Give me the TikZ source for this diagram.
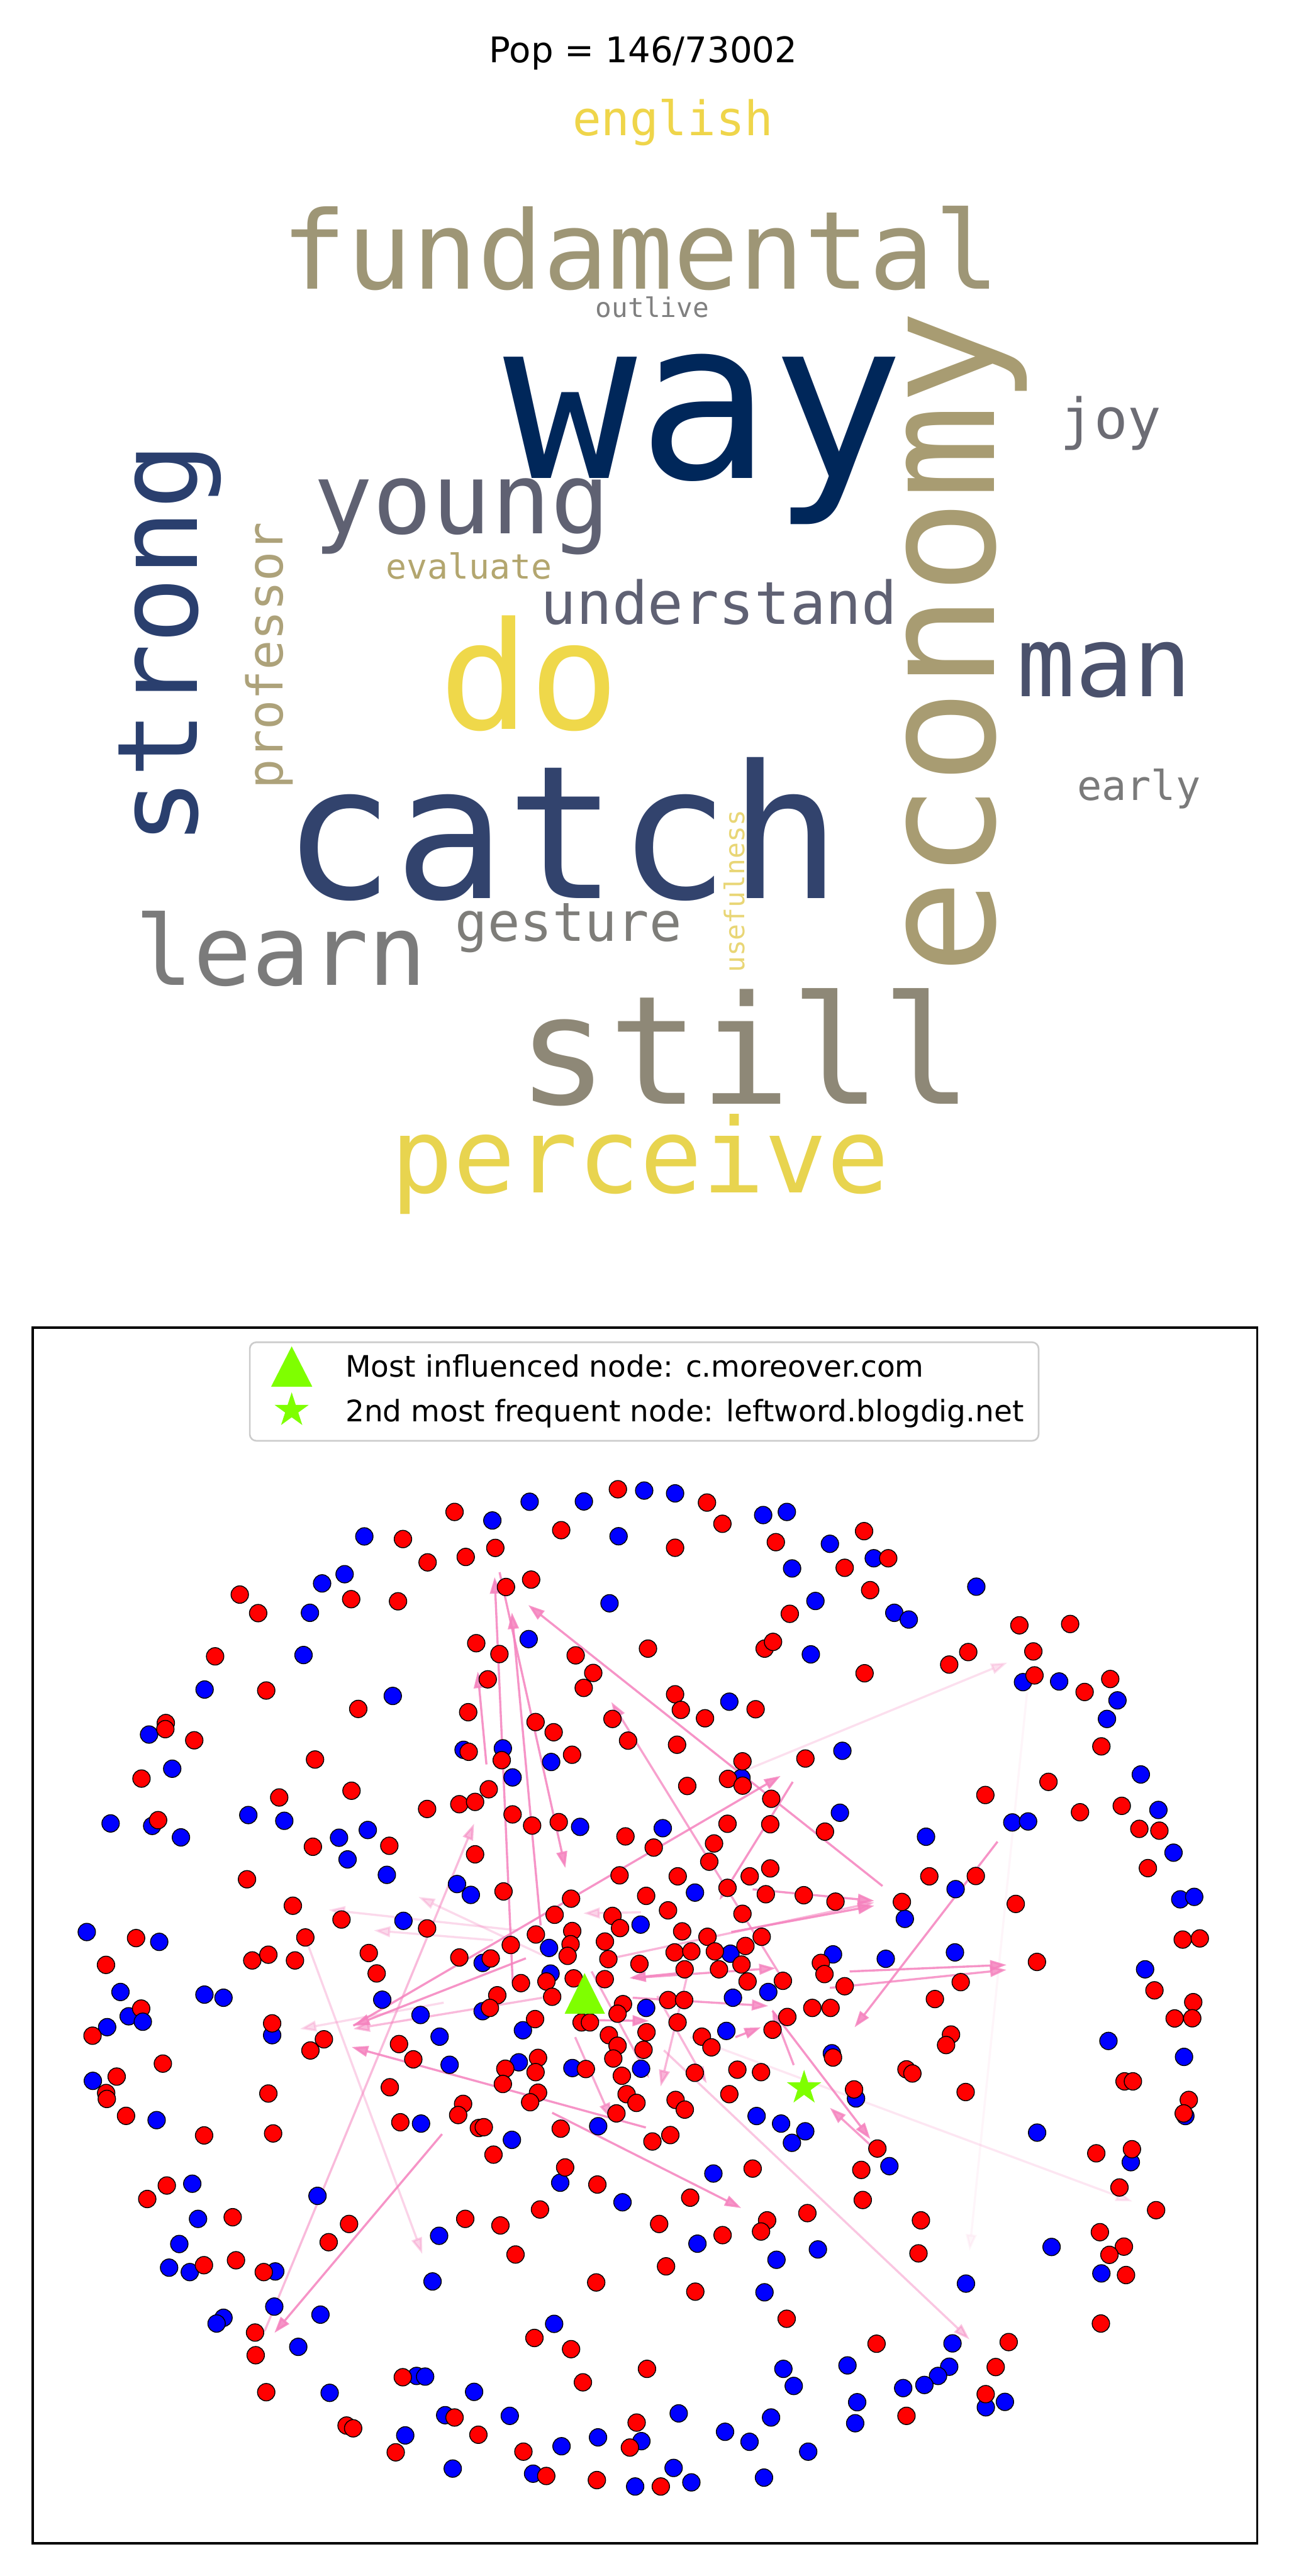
\documentclass[tikz,border=0pt]{standalone}
\usepackage{fontspec}
\usetikzlibrary{arrows.meta,shapes.geometric}
\newfontfamily\wcfont{DejaVu Sans Mono}
\newfontfamily\mplfont{DejaVu Sans}
\definecolor{cEng}{HTML}{EFD54A}
\definecolor{cFund}{HTML}{9E9676}
\definecolor{cOut}{HTML}{808080}
\definecolor{cWay}{HTML}{00275A}
\definecolor{cEco}{HTML}{A89C72}
\definecolor{cJoy}{HTML}{6C6C74}
\definecolor{cYoung}{HTML}{5F6172}
\definecolor{cStrong}{HTML}{2A3F6E}
\definecolor{cProf}{HTML}{ADA27A}
\definecolor{cEval}{HTML}{B3A66F}
\definecolor{cUnd}{HTML}{5F6173}
\definecolor{cMan}{HTML}{4A516C}
\definecolor{cDo}{HTML}{EFD84A}
\definecolor{cCatch}{HTML}{32436D}
\definecolor{cEarly}{HTML}{7A7A7A}
\definecolor{cUse}{HTML}{E9D676}
\definecolor{cLearn}{HTML}{7B7B7B}
\definecolor{cGest}{HTML}{7E7D79}
\definecolor{cStill}{HTML}{8E8877}
\definecolor{cPerc}{HTML}{E8D44F}
\definecolor{cPink}{RGB}{245,130,190}
\definecolor{cLime}{HTML}{7FFF00}
\definecolor{cLegEdge}{HTML}{CCCCCC}
\tikzset{
  wc/.style={anchor=base, inner sep=0pt, outer sep=0pt},
  rdot/.style={circle, minimum size=10.6pt, inner sep=0pt, draw=black, line width=0.55pt, fill=red},
  bdot/.style={circle, minimum size=10.6pt, inner sep=0pt, draw=black, line width=0.55pt, fill=blue},
  edge/.style={draw=cPink, line width=1.3pt, -{Triangle[length=10pt,width=6.5pt]}},
  starmark/.style={star, star points=5, star point ratio=2.618, minimum size=22pt, inner sep=0pt, fill=cLime},
  legtext/.style={anchor=base west, inner sep=0pt, font=\mplfont\fontsize{18}{18}\selectfont}
}
\begin{document}
\begin{tikzpicture}[x=1pt, y=-1pt]
\fill[white] (0,0) rectangle (784,1568);
\useasboundingbox (0,0) rectangle (784,1568);

% title
\node[anchor=base, inner sep=0pt, font=\mplfont\fontsize{21.5}{21.5}\selectfont] (title) at (391.5,38) {Pop = 146/73002};

% word cloud
\node[wc, text=cEng, font=\wcfont\fontsize{29}{29}\selectfont] (w1) at (409.5,82.5) {english};
\node[wc, text=cFund, font=\wcfont\fontsize{66}{66}\selectfont] (w2) at (390,176) {fundamental};
\node[wc, text=cOut, font=\wcfont\fontsize{16.4}{16.4}\selectfont] (w3) at (397,193) {outlive};
\node[wc, text=cWay, font=\wcfont\fontsize{135}{135}\selectfont] (w4) at (428.5,291) {way};
\node[wc, text=cEco, rotate=90, font=\wcfont\fontsize{96}{96}\selectfont] (w5) at (605,391) {economy};
\node[wc, text=cJoy, font=\wcfont\fontsize{34}{34}\selectfont] (w6) at (676,267) {joy};
\node[wc, text=cYoung, font=\wcfont\fontsize{60}{60}\selectfont] (w7) at (281,325) {young};
\node[wc, text=cStrong, rotate=90, font=\wcfont\fontsize{68}{68}\selectfont] (w8) at (120,392) {strong};
\node[wc, text=cProf, rotate=90, font=\wcfont\fontsize{30}{30}\selectfont] (w9) at (172,399) {professor};
\node[wc, text=cEval, font=\wcfont\fontsize{21}{21}\selectfont] (w10) at (285.5,352.5) {evaluate};
\node[wc, text=cUnd, font=\wcfont\fontsize{36}{36}\selectfont] (w11) at (437.5,380) {understand};
\node[wc, text=cMan, font=\wcfont\fontsize{59}{59}\selectfont] (w12) at (672,424) {man};
\node[wc, text=cDo, font=\wcfont\fontsize{91}{91}\selectfont] (w13) at (322,444) {do};
\node[wc, text=cCatch, font=\wcfont\fontsize{113}{113}\selectfont] (w14) at (342,547) {catch};
\node[wc, text=cEarly, font=\wcfont\fontsize{25}{25}\selectfont] (w15) at (693,487) {early};
\node[wc, text=cUse, rotate=90, font=\wcfont\fontsize{16.5}{16.5}\selectfont] (w16) at (453,542.5) {usefulness};
\node[wc, text=cLearn, font=\wcfont\fontsize{59}{59}\selectfont] (w17) at (171,599.5) {learn};
\node[wc, text=cGest, font=\wcfont\fontsize{32.7}{32.7}\selectfont] (w18) at (346,573) {gesture};
\node[wc, text=cStill, font=\wcfont\fontsize{92}{92}\selectfont] (w19) at (453.5,672) {still};
\node[wc, text=cPerc, font=\wcfont\fontsize{63}{63}\selectfont] (w20) at (389.5,726) {perceive};

% axes frame
\draw[black, line width=1.4pt] (20,808) rectangle (765,1548);

% edges
\foreach \ax/\ay/\bx/\by/\op [count=\i] in {
 312/1207/301/960/0.85, 329/1172/311.5/981.5/0.85, 304/957/344/1137/0.85,
 537/1148/321.5/977/0.85, 296/1074/290.7/1017.5/0.85, 215/1233/475/1081/0.85,
 482.4/1084.6/437.8/1156.5/0.85, 474/1201/372/1036/0.75, 458/1150/532/1157/0.85,
 445/1176/532/1160/0.85, 372/1192/532/1158/0.6, 517/1200/612.5/1196/0.85,
 505/1210/612.5/1199/0.8, 607/1121/520/1234/0.85, 336/1286/451/1344/0.85,
 393/1295/214/1246/0.85, 269/1299/167/1420/0.85, 320/1192/215/1233/0.85,
 470/1224/529.6/1302/0.85, 413/1201/383/1204/0.85, 364.5/1229.7/394.9/1230.1/0.85,
 385/1204/472/1198/0.8, 385/1216/467.5/1221/0.8, 447.5/1240/463/1234/0.85,
 161/1419/288.5/1110/0.55, 330/1216/215/1235/0.55, 404/1248/590/1424/0.45,
 483/1257/470/1223/0.8, 186/1180/257/1372/0.35, 455/1077/613/1012/0.25,
 270/1219/182.5/1235/0.3, 330/1190/254.6/1154.6/0.3, 315/1175/200/1162.5/0.3,
 300/1181/227.5/1175/0.3, 390/1164/355/1164.6/0.35, 420/1240/689/1340/0.2,
 625/1030/590/1370/0.08, 530/1306/505/1283/0.8, 350/1240/372/1290/0.7,
 400/1215/430/1268/0.6, 360/1200/395/1265/0.7, 420/1195/402/1270/0.6}
{
 \coordinate (p\i) at (\ax,\ay);
 \coordinate (q\i) at (\bx,\by);
 \draw[edge, opacity=\op] (p\i) -- (q\i);
}

% blue dots
\foreach \x/\y [count=\i] in {
221.7/935.2, 209.7/958.2, 196.0/963.8, 188.6/981.7, 184.7/1007.4, 124.5/1028.4, 239.0/1032.3, 90.7/1055.8, 104.8/1076.6, 67.3/1109.9, 92.6/1111.4, 110.1/1118.4, 151.1/1104.8, 173.0/1108.3, 206.3/1118.6, 223.8/1113.9, 211.5/1131.8, 235.4/1141.2, 245.5/1169.2, 52.8/1176.0, 96.9/1182.0,
299.6/925.5, 322.3/914.1, 355.3/913.9, 392.0/907.3, 410.8/909.0, 464.4/922.2, 478.8/920.3, 376.4/935.1, 505.0/939.7, 482.0/954.7, 370.9/975.9, 496.2/974.5, 321.7/997.7, 493.4/1007.0, 443.8/1035.8, 282.1/1065.1, 306.0/1064.2, 335.4/1072.5, 311.9/1081.9, 451.2/1082.2, 353.0/1112.0, 403.3/1112.8, 278.1/1146.8, 286.5/1153.4, 422.9/1152.0, 389.8/1171.5, 334.1/1185.7, 293.7/1194.8, 444.5/1189.2, 506.9/1189.6, 335.0/1201.3,
531.7/948.5, 544.2/981.7, 553.0/985.8, 594.1/965.8, 622.5/1023.9, 644.5/1023.5, 680.0/1035.0, 673.6/1046.3, 512.6/1065.7, 694.2/1080.1, 511.1/1103.4, 704.9/1101.7, 616.0/1109.3, 625.6/1108.7, 714.1/1127.7, 563.5/1118.0, 581.5/1149.9, 550.6/1168.0, 718.2/1156.1, 726.7/1154.6, 539.0/1192.3, 581.1/1188.4, 696.8/1198.7,
73.3/1212.5, 124.4/1214.1, 136.0/1216.0, 78.3/1227.3, 65.2/1233.9, 165.6/1238.8, 232.6/1217.2, 255.9/1226.5, 267.5/1239.7, 273.6/1256.8, 56.5/1266.6, 95.3/1290.5, 256.2/1292.6, 117.0/1329.2, 120.5/1350.6, 109.1/1365.9, 102.9/1380.3, 115.5/1383.0, 167.5/1382.6, 193.2/1336.6, 267.2/1360.9, 263.2/1388.7, 166.9/1404.0, 195.0/1408.9, 136.0/1410.8, 131.8/1414.3, 181.5/1428.5, 200.6/1456.5, 253.5/1446.2, 258.7/1446.6, 270.9/1470.1, 246.6/1482.4, 275.5/1502.6,
293.7/1224.2, 318.2/1235.8, 393.2/1222.2, 446.0/1216.0, 467.5/1212.5, 390.1/1259.2, 442.0/1236.2, 506.2/1249.8, 315.7/1255.3, 348.3/1258.8, 460.4/1288.0, 475.3/1292.6, 490.0/1297.3, 481.9/1304.3, 364.0/1294.2, 311.5/1302.5, 340.9/1328.6, 378.8/1340.5, 434.1/1323.0, 424.4/1365.7, 497.7/1369.2, 472.5/1375.5, 465.2/1395.3, 337.2/1414.5, 476.7/1441.9, 483.0/1452.3, 288.5/1455.9, 310.2/1470.5, 413.0/1469.0, 390.3/1485.9, 363.9/1483.6, 341.7/1489.0, 441.2/1480.2, 456.1/1486.3, 469.2/1471.5, 491.8/1492.3, 324.4/1505.7, 409.9/1502.2, 420.7/1511.0, 464.9/1508.1, 386.5/1513.5,
674.5/1242.3, 720.5/1252.0, 520.9/1277.3, 721.3/1288.0, 631.1/1298.1, 541.2/1318.5, 688.1/1316.1, 639.9/1367.7, 670.2/1383.8, 587.8/1390.0, 579.6/1426.4, 515.7/1439.8, 577.6/1440.6, 570.8/1446.2, 562.5/1451.7, 549.6/1453.6, 521.6/1462.2, 520.4/1475.0, 599.9/1465.3, 611.5/1462.0}
{ \node[bdot] (b\i) at (\x,\y) {}; }

% red dots
\foreach \x/\y [count=\i] in {
245.2/936.8, 260.2/951.0, 145.9/970.6, 213.7/973.4, 242.2/974.7, 157.1/981.9, 130.9/1008.2, 162.0/1029.0, 218.0/1040.2, 100.9/1048.8, 100.6/1052.5, 118.2/1059.3, 191.7/1071.0, 86.1/1082.6, 169.9/1094.1, 213.9/1090.0, 259.9/1101.1, 96.2/1107.9, 190.4/1124.1, 236.9/1123.5, 150.3/1143.9, 178.2/1160.0, 207.8/1168.4, 259.9/1173.8, 82.8/1179.7, 185.8/1179.3, 64.5/1196.0, 153.5/1193.3, 163.3/1189.8, 179.5/1193.3, 224.4/1188.8, 229.2/1201.2,
276.6/920.3, 376.0/906.5, 430.2/914.6, 439.6/927.5, 341.5/931.4, 410.8/942.1, 472.1/938.7, 283.4/947.7, 301.4/942.2, 307.9/966.0, 323.2/961.5, 480.6/982.3, 289.8/1000.2, 303.9/1006.8, 350.3/1007.6, 361.0/1018.3, 355.2/1027.4, 394.3/1003.5, 465.3/1003.5, 470.4/999.4, 296.8/1022.2, 284.9/1042.2, 410.8/1031.3, 414.3/1040.8, 429.0/1045.9, 459.8/1040.4, 372.7/1046.3, 382.2/1059.5, 325.9/1048.2, 336.9/1054.4, 412.0/1062.0, 451.8/1072.1, 490.1/1070.4, 285.2/1066.3, 305.3/1071.4, 348.1/1068.1, 297.4/1089.1, 279.5/1098.2, 289.1/1096.8, 418.2/1087.1, 443.0/1082.8, 451.9/1086.9, 469.3/1094.9, 311.9/1104.4, 323.8/1111.2, 340.0/1109.1, 380.6/1117.8, 397.8/1124.6, 442.7/1110.1, 468.7/1110.4, 502.0/1114.9, 434.5/1122.1, 431.6/1133.2, 289.1/1128.7, 377.0/1141.5, 412.4/1142.1, 468.7/1137.3, 456.2/1142.1, 306.4/1151.3, 347.5/1155.7, 393.2/1154.0, 442.7/1149.1, 466.0/1153.0, 489.1/1153.6, 508.4/1157.5, 337.5/1165.5, 372.7/1166.2, 377.3/1173.6, 406.5/1162.8, 451.8/1164.9, 326.1/1177.5, 348.2/1175.4, 347.2/1183.4, 345.4/1190.5, 310.8/1183.9, 279.5/1191.5, 298.6/1192.1, 368.1/1181.8, 370.2/1192.5, 389.1/1195.4, 415.1/1175.6, 430.5/1178.9, 410.5/1188.4, 420.7/1187.8, 435.0/1187.8, 453.6/1184.5, 463.5/1178.9, 416.6/1198.7, 437.5/1198.7, 451.2/1195.8, 499.5/1194.8, 501.7/1201.6, 317.0/1207.1, 332.5/1206.1, 349.1/1204.2, 368.0/1204.7, 454.9/1206.1, 476.4/1205.7,
525.8/932.0, 540.5/948.5, 514.0/954.3, 529.5/967.9, 620.3/989.3, 651.2/988.5, 628.8/1005.2, 589.2/1005.6, 577.6/1013.2, 526.1/1018.5, 629.5/1019.8, 660.0/1029.9, 675.6/1022.0, 670.2/1063.0, 638.0/1084.6, 599.6/1092.6, 657.2/1103.1, 682.6/1099.2, 693.3/1113.2, 705.5/1114.3, 698.5/1137.1, 565.5/1142.1, 593.8/1141.9, 548.8/1157.7, 618.1/1158.9, 719.7/1180.6, 730.1/1179.9, 631.0/1194.2,
85.9/1222.6, 56.3/1239.1, 165.6/1231.6, 197.1/1241.3, 188.9/1248.1, 242.8/1244.2, 251.5/1253.5, 99.1/1256.1, 71.0/1264.0, 64.6/1274.0, 65.0/1277.6, 76.7/1287.9, 124.2/1299.8, 163.3/1274.3, 166.2/1298.6, 237.2/1270.5, 243.6/1291.8, 101.5/1330.3, 89.6/1338.5, 141.6/1349.6, 124.1/1378.8, 143.6/1375.8, 160.5/1383.0, 212.4/1353.7, 200.0/1364.8, 155.2/1419.8, 155.6/1433.6, 162.0/1456.1, 245.1/1447.0, 210.9/1476.4, 214.9/1478.1, 240.8/1492.7,
302.6/1214.5, 298.1/1222.2, 336.0/1215.4, 325.6/1229.0, 406.6/1217.4, 416.3/1217.4, 494.3/1222.2, 505.4/1222.2, 379.1/1219.9, 375.8/1225.7, 353.9/1231.0, 359.0/1231.0, 370.5/1238.8, 375.8/1245.2, 373.2/1253.0, 393.4/1237.0, 391.6/1247.7, 378.4/1263.5, 412.3/1231.0, 427.1/1239.7, 432.9/1246.2, 470.1/1235.5, 479.1/1227.7, 506.9/1252.4, 307.5/1259.2, 306.0/1268.5, 327.4/1252.6, 325.9/1261.3, 327.4/1273.8, 322.6/1279.6, 356.5/1259.4, 422.8/1261.7, 448.7/1259.8, 463.1/1261.3, 443.8/1274.7, 381.3/1274.7, 387.3/1280.0, 411.1/1278.2, 416.7/1284.1, 375.1/1286.4, 281.8/1280.6, 278.8/1287.4, 291.4/1295.3, 294.4/1294.8, 341.2/1295.7, 300.3/1311.5, 397.0/1303.5, 407.9/1299.6, 343.9/1319.3, 363.5/1329.7, 458.0/1320.0, 420.0/1337.7, 328.6/1344.9, 283.1/1350.6, 304.5/1354.6, 401.1/1353.7, 439.7/1360.5, 466.8/1351.5, 463.1/1358.3, 491.3/1347.1, 313.7/1372.3, 405.3/1379.5, 362.8/1389.3, 423.1/1394.9, 478.7/1411.4, 325.2/1423.1, 347.5/1429.9, 393.7/1441.9, 354.7/1450.1, 276.6/1471.5, 291.1/1482.0, 387.4/1474.6, 383.3/1489.8, 318.5/1492.3, 332.4/1507.1, 363.2/1509.6, 402.1/1513.5,
514.0/1209.0, 584.6/1206.5, 702.5/1211.5, 568.9/1216.8, 726.1/1218.7, 714.8/1228.6, 725.5/1228.5, 578.7/1238.4, 575.7/1244.8, 551.6/1259.6, 555.2/1262.1, 684.3/1266.9, 689.4/1266.9, 587.6/1273.4, 519.7/1271.8, 723.4/1278.2, 720.3/1286.4, 533.9/1307.8, 524.1/1320.8, 525.0/1339.1, 667.1/1310.7, 688.8/1308.2, 681.2/1331.5, 703.5/1345.3, 560.4/1351.5, 558.9/1371.6, 669.3/1358.7, 683.9/1367.5, 675.1/1372.5, 685.2/1384.8, 669.9/1414.3, 533.4/1426.6, 613.8/1425.6, 605.9/1440.8, 551.6/1470.5, 599.8/1457.3}
{ \node[rdot] (r\i) at (\x,\y) {}; }

% overlapping blue on top
\node[bdot] (bt1) at (86.9,1230.6) {};

% special markers
\fill[cLime] (355.7,1201) -- (343.6,1225.7) -- (368.1,1225.7) -- cycle;
\node[starmark] (starnode) at (489.3,1270.9) {};

% legend
\draw[cLegEdge, fill=white, line width=1pt, rounded corners=4pt] (152,817) rectangle (632,877);
\fill[cLime] (177.5,819.5) -- (165,844) -- (190,844) -- cycle;
\node[starmark] (legstar) at (177.5,858.5) {};
\node[legtext] (leg1) at (210,838.3) {Most influenced node: c.moreover.com};
\node[legtext] (leg2) at (210,865.3) {2nd most frequent node: leftword.blogdig.net};
\end{tikzpicture}
\end{document}
